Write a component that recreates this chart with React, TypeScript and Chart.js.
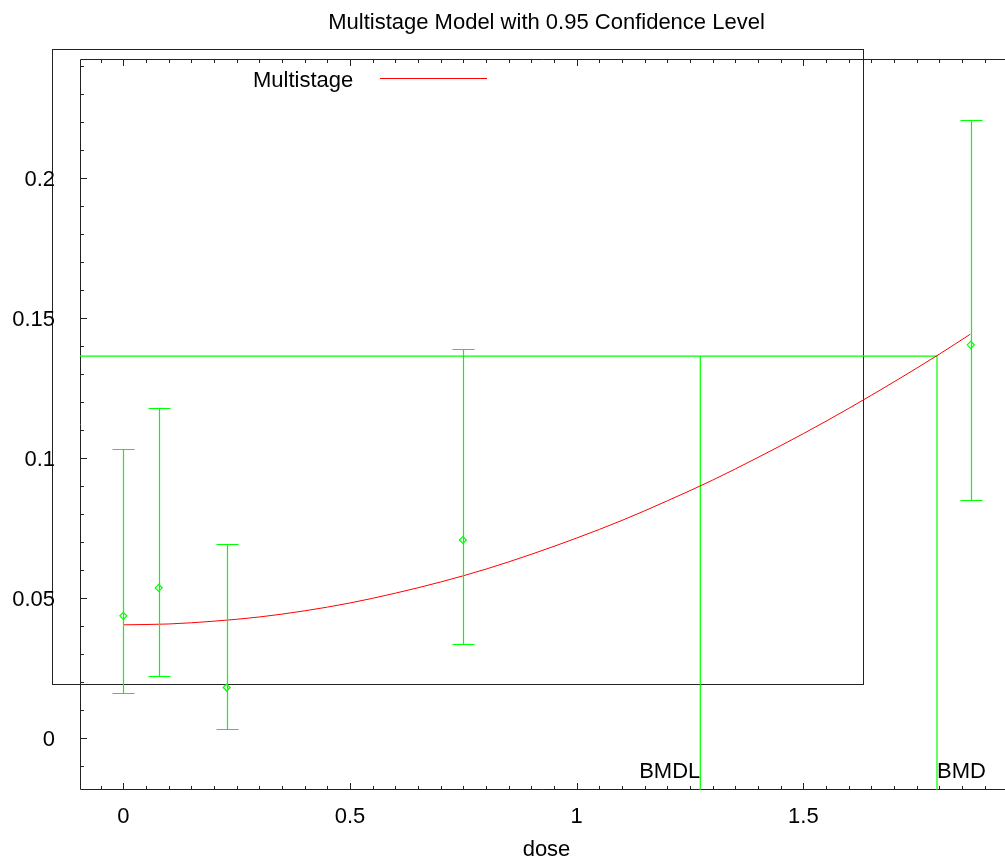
import React, { useEffect, useRef } from "react";
import { Chart, registerables } from "chart.js";

Chart.register(...registerables);

// ---- data ----
const curveDose = [0, 0.1, 0.2, 0.3, 0.4, 0.5, 0.6, 0.7, 0.8, 0.9, 1.0, 1.1, 1.2, 1.3, 1.4, 1.5, 1.6, 1.7, 1.8, 1.868];
const curveResp = [0.0404, 0.0407, 0.0417, 0.0432, 0.0454, 0.0482, 0.0517, 0.0557, 0.0603, 0.0656, 0.0714, 0.0777, 0.0847, 0.0921, 0.1002, 0.1087, 0.1177, 0.1272, 0.1371, 0.1442];

const obsDose = [0, 0.078, 0.228, 0.749, 1.869];
const obsMean = [0.0436, 0.0536, 0.018, 0.0707, 0.1404];
const obsLower = [0.0162, 0.022, 0.0032, 0.0336, 0.085];
const obsUpper = [0.1032, 0.1178, 0.0693, 0.139, 0.2207];

const bmrLevel = 0.1364;
const bmd = 1.7946;
const bmdl = 1.2726;

const xTickValues = [0, 0.5, 1, 1.5];
const xTickLabels = ["0", "0.5", "1", "1.5"];
const yTickValues = [0, 0.05, 0.1, 0.15, 0.2];
const yTickLabels = ["0", "0.05", "0.1", "0.15", "0.2"];

const X_MIN = -0.0955;
const X_MAX = 1.9446;
const Y_MIN = -0.0186;
const Y_MAX = 0.2425;

const TITLE = "Multistage Model with 0.95 Confidence Level";
const X_LABEL = "dose";
const LEGEND_LABEL = "Multistage";

const FONT = '22px "Liberation Sans", Arial, sans-serif';
const GREEN = "#00ff00";
const RED = "#ff0000";

const decorPlugin = {
  id: "gnuplotDecor",
  beforeDatasetsDraw(chart: any) {
    const { ctx, chartArea, scales } = chart;
    const xs = scales.x;
    const ys = scales.y;
    ctx.save();
    // outer (misplaced) key box
    ctx.strokeStyle = "#222";
    ctx.lineWidth = 1;
    ctx.strokeRect(52.5, 49.5, 863 - 52, 684 - 49);

    // axis frame
    ctx.strokeStyle = "#222";
    ctx.beginPath();
    ctx.moveTo(chartArea.left + 0.5, chartArea.top + 0.5);
    ctx.lineTo(chartArea.right, chartArea.top + 0.5);
    ctx.moveTo(chartArea.left + 0.5, chartArea.top + 0.5);
    ctx.lineTo(chartArea.left + 0.5, chartArea.bottom - 0.5);
    ctx.lineTo(chartArea.right, chartArea.bottom - 0.5);
    ctx.stroke();

    // x ticks (bottom and top), inward
    ctx.beginPath();
    for (let i = -1; i <= 40; i++) {
      const v = i * 0.05;
      if (v < X_MIN || v > X_MAX) continue;
      const major = i % 10 === 0;
      const len = major ? 7 : 4;
      const px = Math.round(xs.getPixelForValue(v)) + 0.5;
      ctx.moveTo(px, chartArea.bottom);
      ctx.lineTo(px, chartArea.bottom - len);
      ctx.moveTo(px, chartArea.top);
      ctx.lineTo(px, chartArea.top + len);
    }
    // y ticks (left), inward
    for (let i = -1; i <= 24; i++) {
      const v = i * 0.01;
      if (v < Y_MIN || v > Y_MAX) continue;
      const major = i % 5 === 0;
      const len = major ? 7 : 4;
      const py = Math.round(ys.getPixelForValue(v)) + 0.5;
      ctx.moveTo(chartArea.left, py);
      ctx.lineTo(chartArea.left + len, py);
    }
    ctx.stroke();

    // tick labels
    ctx.fillStyle = "#000";
    ctx.font = FONT;
    ctx.textAlign = "center";
    ctx.textBaseline = "alphabetic";
    xTickValues.forEach((v, i) => {
      ctx.fillText(xTickLabels[i], xs.getPixelForValue(v), 823);
    });
    ctx.textAlign = "right";
    yTickValues.forEach((v, i) => {
      ctx.fillText(yTickLabels[i], 55, ys.getPixelForValue(v) + 8);
    });

    // title and axis label
    ctx.textAlign = "center";
    ctx.fillText(TITLE, 546.5, 29);
    ctx.fillText(X_LABEL, 546.5, 856);

    // legend
    ctx.textAlign = "left";
    ctx.fillText(LEGEND_LABEL, 253, 87);
    ctx.strokeStyle = RED;
    ctx.lineWidth = 1;
    ctx.beginPath();
    ctx.moveTo(380, 78.5);
    ctx.lineTo(487, 78.5);
    ctx.stroke();

    // BMD / BMDL labels
    ctx.fillStyle = "#000";
    ctx.textAlign = "right";
    ctx.fillText("BMDL", xs.getPixelForValue(bmdl), 778);
    ctx.textAlign = "left";
    ctx.fillText("BMD", xs.getPixelForValue(bmd), 778);

    ctx.restore();
  },
  afterDatasetsDraw(chart: any) {
    const { ctx, scales } = chart;
    const xs = scales.x;
    const ys = scales.y;
    ctx.save();
    ctx.strokeStyle = GREEN;
    ctx.lineWidth = 1.2;
    ctx.beginPath();
    obsDose.forEach((d, i) => {
      const px = Math.round(xs.getPixelForValue(d)) + 0.5;
      const yl = Math.round(ys.getPixelForValue(obsLower[i])) + 0.5;
      const yu = Math.round(ys.getPixelForValue(obsUpper[i])) + 0.5;
      ctx.moveTo(px, yl);
      ctx.lineTo(px, yu);
      ctx.moveTo(px - 11, yl);
      ctx.lineTo(px + 11, yl);
      ctx.moveTo(px - 11, yu);
      ctx.lineTo(px + 11, yu);
    });
    ctx.stroke();
    ctx.restore();
  },
};

export default function App() {
  const ref = useRef<HTMLCanvasElement | null>(null);
  useEffect(() => {
    if (!ref.current) return;
    const chart = new Chart(ref.current, {
      type: "scatter",
      data: {
        datasets: [
          {
            label: LEGEND_LABEL,
            type: "line",
            data: curveDose.map((d, i) => ({ x: d, y: curveResp[i] })),
            borderColor: RED,
            borderWidth: 1,
            pointRadius: 0,
            cubicInterpolationMode: "monotone",
            fill: false,
          },
          {
            label: "Observed",
            data: obsDose.map((d, i) => ({ x: d, y: obsMean[i] })),
            borderColor: GREEN,
            backgroundColor: "rgba(0,0,0,0)",
            pointStyle: "rectRot",
            pointRadius: 3.5,
            borderWidth: 1.2,
          },
          {
            label: "BMD",
            type: "line",
            data: [
              { x: X_MIN, y: bmrLevel },
              { x: bmd, y: bmrLevel },
              { x: bmd, y: Y_MIN },
            ],
            borderColor: GREEN,
            borderWidth: 1.2,
            pointRadius: 0,
            fill: false,
          },
          {
            label: "BMDL",
            type: "line",
            data: [
              { x: bmdl, y: bmrLevel },
              { x: bmdl, y: Y_MIN },
            ],
            borderColor: GREEN,
            borderWidth: 1.2,
            pointRadius: 0,
            fill: false,
          },
        ],
      },
      options: {
        animation: false,
        responsive: false,
        maintainAspectRatio: false,
        layout: { autoPadding: false, padding: { left: 80, top: 59, right: 0, bottom: 73 } },
        plugins: {
          legend: { display: false },
          title: { display: false },
          tooltip: { enabled: false },
        },
        scales: {
          x: { type: "linear", min: X_MIN, max: X_MAX, display: false },
          y: { type: "linear", min: Y_MIN, max: Y_MAX, display: false },
        },
      },
      plugins: [decorPlugin],
    } as any);
    return () => chart.destroy();
  }, []);
  return (
    <div style={{ position: "fixed", left: 0, top: 0, width: 1005, height: 863, background: "#fff" }}>
      <canvas ref={ref} width={1005} height={863} style={{ width: 1005, height: 863, display: "block" }} />
    </div>
  );
}
